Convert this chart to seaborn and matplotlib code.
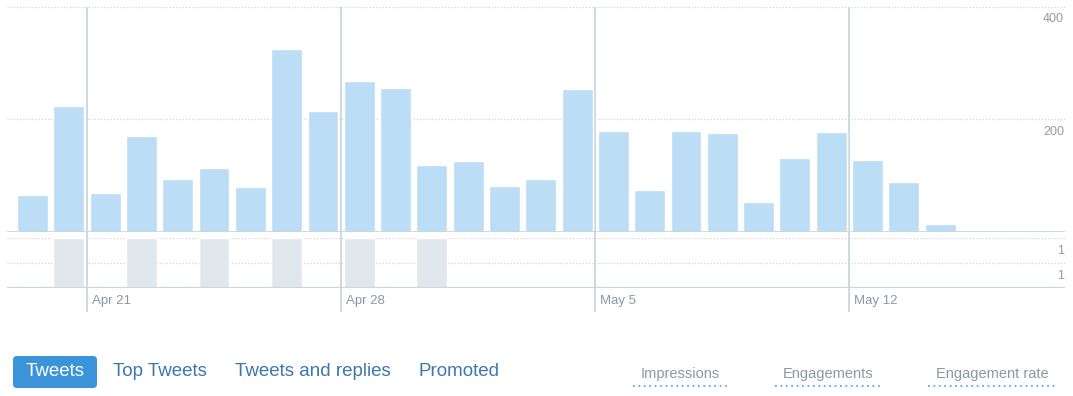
import matplotlib
matplotlib.use("Agg")
import matplotlib.pyplot as plt
from matplotlib.patches import FancyBboxPatch
import seaborn as sns
import pandas as pd

# ---------------- data ----------------
days = list(pd.date_range("2019-04-19", "2019-05-17").strftime("%b %d"))
impressions = [65, 223, 70, 170, 94, 113, 80, 324, 215, 268, 256, 118, 126, 81, 94,
               253, 179, 74, 179, 175, 54, 132, 178, 127, 88, 14, 0, 0, 0]
engagements = [0, 1, 0, 1, 0, 1, 0, 1, 0, 1, 0, 1, 0, 0, 0,
               0, 0, 0, 0, 0, 0, 0, 0, 0, 0, 0, 0, 0, 0]
week_ticks = ["Apr 21", "Apr 28", "May 05", "May 12"]
week_labels = ["Apr 21", "Apr 28", "May 5", "May 12"]
top_ticks = [400, 200]
top_tick_labels = ["400", "200"]
bottom_ticks = [1, 0.5]
bottom_tick_labels = ["1", "1"]
tabs = ["Tweets", "Top Tweets", "Tweets and replies", "Promoted"]
metrics = ["Impressions", "Engagements", "Engagement rate"]

df = pd.DataFrame({"day": days, "impressions": impressions, "engagements": engagements})

# ---------------- style ----------------
sns.set_style("white")
plt.rcParams["font.family"] = ["Liberation Sans", "DejaVu Sans"]

W, H = 1073, 396
fig = plt.figure(figsize=(W / 100, H / 100), dpi=100)
fig.patch.set_facecolor("white")

def box(l, t, r, b):
    return [l / W, 1 - b / H, (r - l) / W, (b - t) / H]

BAR = "#bbddf5"
GREYBAR = "#e1e8ed"
GRID = "#ccd6dd"
LABEL = "#8899a6"
XLIM = (-0.704, 28.44)

# background axes for week separators
ax_bg = fig.add_axes(box(7, 7, 1065, 312))
ax_bg.set_xlim(*XLIM)
ax_bg.set_ylim(0, 1)
ax_bg.axis("off")
for wk, lab in zip(week_ticks, week_labels):
    xpos = days.index(wk) - 0.5
    ax_bg.axvline(xpos, color=GRID, lw=1.3, zorder=0)
    ax_bg.annotate(lab, xy=(xpos, 0), xycoords=("data", "axes fraction"),
                   xytext=(5, 11), textcoords="offset pixels",
                   ha="left", va="center", fontsize=9.5, color=LABEL)

# top: impressions
ax1 = fig.add_axes(box(7, 6.5, 1065, 232))
ax1.patch.set_alpha(0)
sns.barplot(data=df, x="day", y="impressions", color=BAR, saturation=1,
            width=0.85, ax=ax1, zorder=2)
ax1.set_xlim(*XLIM)
ax1.set_ylim(0, 400)
for t, lab in zip(top_ticks, top_tick_labels):
    ax1.axhline(t, color=GRID, lw=0.9, ls=(0, (1, 1.5)), zorder=1)
    ax1.annotate(lab, xy=(1, t), xycoords=("axes fraction", "data"),
                 xytext=(-1, -13), textcoords="offset pixels",
                 ha="right", va="center", fontsize=9, color="#999999")
ax1.axhline(0, color=GRID, lw=2, zorder=3)
ax1.set_xlabel("")
ax1.set_ylabel("")
ax1.set_xticks([])
ax1.set_yticks([])
sns.despine(ax=ax1, left=True, bottom=True)

# bottom: engagements
ax2 = fig.add_axes(box(7, 238, 1065, 288))
ax2.patch.set_alpha(0)
sns.barplot(data=df, x="day", y="engagements", color=GREYBAR, saturation=1,
            width=0.85, ax=ax2, zorder=2)
ax2.set_xlim(*XLIM)
ax2.set_ylim(0, 1)
for t, lab in zip(bottom_ticks, bottom_tick_labels):
    ax2.axhline(t, color=GRID, lw=0.9, ls=(0, (1, 1.5)), zorder=1)
    ax2.annotate(lab, xy=(1, t), xycoords=("axes fraction", "data"),
                 xytext=(-1, -13), textcoords="offset pixels",
                 ha="right", va="center", fontsize=9, color="#999999")
ax2.axhline(0, color=GRID, lw=1.6, zorder=3)
ax2.set_xlabel("")
ax2.set_ylabel("")
ax2.set_xticks([])
ax2.set_yticks([])
sns.despine(ax=ax2, left=True, bottom=True)

# UI row below the chart
ax_ui = fig.add_axes([0, 0, 1, 1])
ax_ui.set_xlim(0, W)
ax_ui.set_ylim(H, 0)
ax_ui.axis("off")
ax_ui.patch.set_alpha(0)

tab_x = [55, 160, 313, 459]
ax_ui.add_patch(FancyBboxPatch((16, 359), 78, 26, boxstyle="round,pad=3,rounding_size=4",
                               fc="#3b94d9", ec="none"))
for i, (t, x) in enumerate(zip(tabs, tab_x)):
    ax_ui.text(x, 372, t, ha="center", va="center", fontsize=13.5,
               color="white" if i == 0 else "#3a78b0")

metric_x = [680, 828, 992]
metric_w = [95, 107, 128]
for m, x, w in zip(metrics, metric_x, metric_w):
    ax_ui.text(x, 374, m, ha="center", va="center", fontsize=10.5, color=LABEL)
    ax_ui.plot([x - w / 2, x + w / 2], [386, 386], color="#55acee", lw=1.3,
               ls=(0, (1, 2)))

fig.savefig("out.png", dpi=100, facecolor="white")
